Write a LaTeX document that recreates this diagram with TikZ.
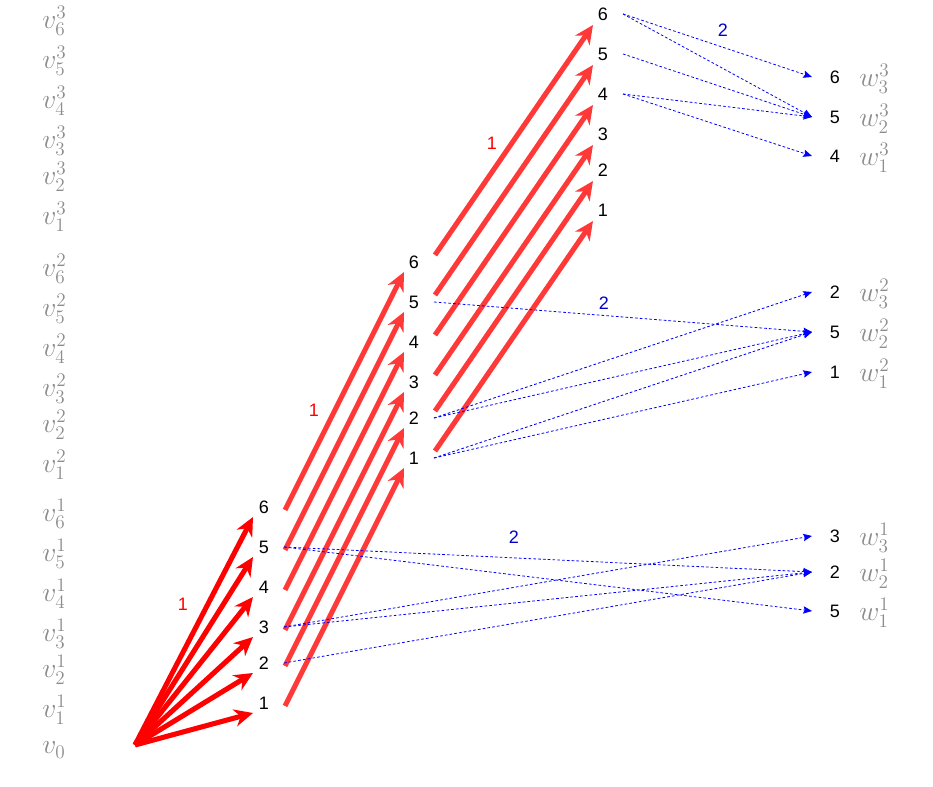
\documentclass[tikz,border=0pt]{standalone}
\usepackage{fontspec}
\usepackage{amsmath}
\newfontfamily\numfont{Liberation Sans}
\usetikzlibrary{calc}
\usetikzlibrary{arrows.meta}
\definecolor{lblgray}{HTML}{8C8C8C}
\definecolor{hopred}{HTML}{FF3838}
\definecolor{wtblue}{HTML}{0000C8}

\begin{document}
\begin{tikzpicture}[x=0.75pt,y=-0.75pt,
    num/.style={font={\numfont\fontsize{13.5}{16}\selectfont}, inner sep=1pt},
    lbl/.style={text=lblgray, font=\huge, anchor=west, inner sep=0pt},
    fan/.style={red, line width=3.8pt, -{Stealth[length=14pt,width=13pt,inset=4.5pt]}},
    hop/.style={hopred, line width=3.8pt, -{Stealth[length=14pt,width=13pt,inset=4.5pt]}},
    link/.style={blue, line width=0.6pt, dash pattern=on 2pt off 1.6pt,
        -{Stealth[length=6.5pt,width=5.5pt,inset=1pt]}}]
    \useasboundingbox (0,0) rectangle (933,787);
    % left labels and layer nodes
    \node[lbl] (v0) at (42,750) {$v_0$};
    \coordinate (s) at (135,745);
    \foreach \k/\x/\b in {1/264/703,2/414/458,3/603/210}
        \foreach \i/\d in {1/0,2/40,3/76,4/116,5/156,6/196} {
            \node[num] (n-\k-\i) at (\x,\b-\d) {\i};
            \node[lbl] (v-\k-\i) at (42,\b-\d+7) {$v_{\i}^{\k}$};
        }
    % right nodes
    \foreach \k/\j/\t/\y in {3/1/4/156,3/2/5/117,3/3/6/77,
            2/1/1/372,2/2/5/332,2/3/2/292,
            1/1/5/611,1/2/2/572,1/3/3/536} {
        \node[num] (r-\k-\j) at (835,\y) {\t};
        \node[lbl] (w-\k-\j) at (859,\y+2) {$w_{\j}^{\k}$};
    }
    % red arrows
    \foreach \i in {1,...,6} {
        \draw[fan] (s) -- ($(n-1-\i)+(-11,10)$);
        \draw[hop] ($(n-1-\i)+(21,3)$) -- ($(n-2-\i)+(-10,10)$);
        \draw[hop] ($(n-2-\i)+(21,-7)$) -- ($(n-3-\i)+(-10,11)$);
    }
    % blue arrows
    \foreach \k/\i/\j in {3/6/3,3/6/2,3/5/2,3/4/2,3/4/1,
            2/5/2,2/2/3,2/2/2,2/1/2,2/1/1,
            1/5/2,1/5/1,1/3/3,1/3/2,1/2/2}
        \draw[link] ($(n-\k-\i)+(20,0)$) -- ($(r-\k-\j)+(-23,0)$);
    % weights
    \node[num, red] (c1) at (183,604) {1};
    \node[num, red] (c2) at (314,410) {1};
    \node[num, red] (c3) at (492,143) {1};
    \node[num, wtblue] (d1) at (514,537) {2};
    \node[num, wtblue] (d2) at (604,303) {2};
    \node[num, wtblue] (d3) at (723,30) {2};
\end{tikzpicture}
\end{document}
